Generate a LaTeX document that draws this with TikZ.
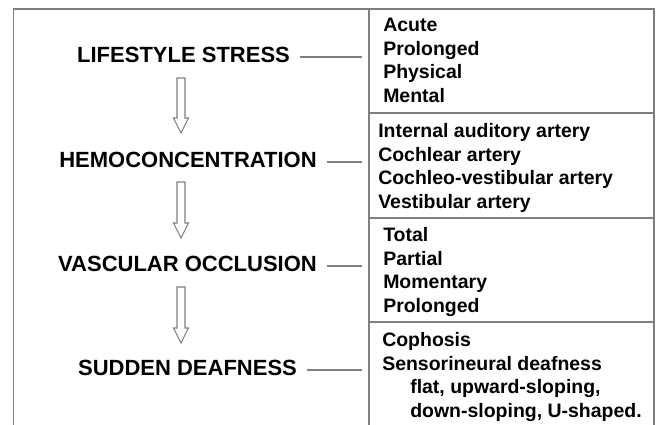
\documentclass[tikz,border=0pt]{standalone}
\usepackage{fontspec}
\setmainfont{Liberation Sans}
\usepackage{tikz}
\usetikzlibrary{calc}
\definecolor{framegray}{HTML}{7F7F7F}
\tikzset{
    frame/.style={draw=framegray, line width=1.2pt},
    link/.style={draw=framegray, line width=1pt, shorten >=5.25pt},
    stage/.style={font=\bfseries\fontsize{16.5}{19.8}\selectfont, inner xsep=7.5pt, inner ysep=0pt,
        text height=11.25pt, text depth=3.75pt, anchor=base},
    items/.style={font=\bfseries\fontsize{14.6}{17.6}\selectfont, align=left, inner sep=0pt, anchor=base west},
    blockarrow/.style={draw=framegray, fill=white, line width=0.8pt, line join=miter}
}
% hollow arrow from a top coordinate down to a tip coordinate
\newcommand{\hollowarrow}[2]{%
    \draw[blockarrow] ($(#1)+(-4,0)$) -- ($(#2)+(-4,-15)$) -- ($(#2)+(-7.5,-15)$) -- (#2)
        -- ($(#2)+(7.5,-15)$) -- ($(#2)+(4,-15)$) -- ($(#1)+(4,0)$) -- cycle;}
\begin{document}
\begin{tikzpicture}[x=0.75pt, y=-0.75pt]
    \useasboundingbox (0,0) rectangle (658,425);

    % frame and the right-hand panel
    \draw[frame] (13.5,425) -- (13.5,9) -- (654,9) -- (654,425);
    \draw[frame] (369,9) -- (369,425);
    \foreach \yy in {113, 218, 322}
        \draw[frame] (369,\yy) -- (654,\yy);
    \coordinate (panel) at (369,0);

    % stages
    \node[stage] at (183.5,62)  (stress) {LIFESTYLE STRESS};
    \node[stage] at (188,167)   (hemo) {HEMOCONCENTRATION};
    \node[stage] at (187.5,271) (occl) {VASCULAR OCCLUSION};
    \node[stage] at (187.5,375) (sudden) {SUDDEN DEAFNESS};

    % lists (placed at the baseline of their last line)
    \node[items] at (383,102) (kinds) {Acute\\Prolonged\\Physical\\Mental};
    \node[items] at (378,208) (arteries) {Internal auditory artery\\Cochlear artery\\Cochleo-vestibular artery\\Vestibular artery};
    \node[items] at (383,312) (degree) {Total\\Partial\\Momentary\\Prolonged};
    \node[items] at (382,417) (hearing) {Cophosis\\Sensorineural deafness\\
        \hspace*{21pt}flat, upward-sloping,\\\hspace*{21pt}down-sloping, U-shaped.};

    \draw[link] (stress.east) -- (stress.east -| panel);
    \draw[link] (hemo.east) -- (hemo.east -| panel);
    \draw[link] (occl.east) -- (occl.east -| panel);
    \draw[link] (sudden.east) -- (sudden.east -| panel);

    % arrows
    \coordinate (top1) at (181,78);  \coordinate (tip1) at (181,133);
    \coordinate (top2) at (181,182); \coordinate (tip2) at (181,238);
    \coordinate (top3) at (181,287); \coordinate (tip3) at (181,343);
    \hollowarrow{top1}{tip1}
    \hollowarrow{top2}{tip2}
    \hollowarrow{top3}{tip3}
\end{tikzpicture}
\end{document}
